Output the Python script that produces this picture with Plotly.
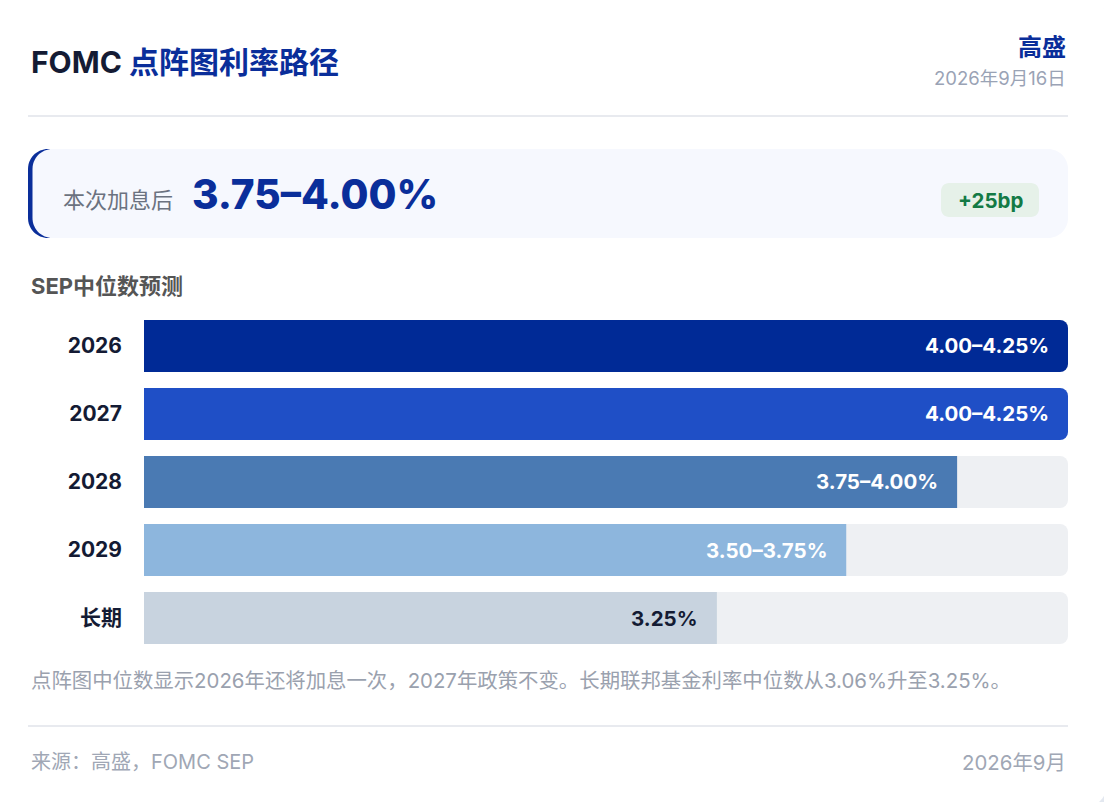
#!/usr/bin/env python3
"""FOMC dot-plot rate path card, drawn with Plotly."""

import plotly.graph_objects as go

years = ["2026", "2027", "2028", "2029", "长期"]
rate_labels = ["4.00–4.25%", "4.00–4.25%", "3.75–4.00%", "3.50–3.75%", "3.25%"]
bar_fill_pct = [100, 100, 88, 76, 62]
track_pct = [100, 100, 100, 100, 100]

current_rate = "3.75–4.00%"
rate_change = "+25bp"
source_name = "高盛"
report_date = "2026年9月16日"
footer_date = "2026年9月"
note_text = "点阵图中位数显示2026年还将加息一次，2027年政策不变。长期联邦基金利率中位数从3.06%升至3.25%。"

# --- styles ---
W, H = 1112, 802
OFFSET = 8  # the page body margin pushes the figure 8px right and down
FONT = "Inter, 'Noto Sans CJK SC', sans-serif"
NAVY = "#0A2E9A"
INK = "#141B34"
bar_colors = ["#002A96", "#1F4FC6", "#4A7AB3", "#8DB6DD", "#C8D3DF"]
label_colors = ["#FFFFFF", "#FFFFFF", "#FFFFFF", "#FFFFFF", INK]


def X(px):
    return (px - OFFSET) / W


def Y(py):
    return 1 - (py - OFFSET) / H


def rounded_rect(x0, y0, x1, y1, r):
    """SVG path (paper coords) for a rounded rectangle given in pixels."""
    k = 0.5523 * r

    def p(x, y):
        return f"{X(x):.5f},{Y(y):.5f}"

    return (
        f"M{p(x0 + r, y0)} L{p(x1 - r, y0)} "
        f"C{p(x1 - r + k, y0)} {p(x1, y0 + r - k)} {p(x1, y0 + r)} "
        f"L{p(x1, y1 - r)} "
        f"C{p(x1, y1 - r + k)} {p(x1 - r + k, y1)} {p(x1 - r, y1)} "
        f"L{p(x0 + r, y1)} "
        f"C{p(x0 + r - k, y1)} {p(x0, y1 - r + k)} {p(x0, y1 - r)} "
        f"L{p(x0, y0 + r)} "
        f"C{p(x0, y0 + r - k)} {p(x0 + r - k, y0)} {p(x0 + r, y0)} Z"
    )


fig = go.Figure()

# grey track behind each bar
fig.add_trace(go.Bar(
    y=years, x=track_pct, orientation="h",
    marker=dict(color="#EEF0F3", cornerradius=8, line_width=0),
    width=52 / 68, hoverinfo="skip", showlegend=False,
))
# filled bars
fig.add_trace(go.Bar(
    y=years, x=bar_fill_pct, orientation="h",
    marker=dict(color=bar_colors, cornerradius=8, line_width=0),
    width=52 / 68, showlegend=False,
    customdata=rate_labels, hovertemplate="%{y}: %{customdata}<extra></extra>",
))

annotations = []
# value labels at the bar ends (category index, since "2026" etc. look numeric)
for i, (val, lab, col) in enumerate(zip(bar_fill_pct, rate_labels, label_colors)):
    annotations.append(dict(
        x=val, y=i, xref="x", yref="y", text=lab, showarrow=False,
        xanchor="right", yanchor="middle", xshift=-17,
        font=dict(family=FONT, size=20.5, color=col, weight="bold"),
    ))


def note(text, x, y, size, color, anchor="left", weight="normal"):
    annotations.append(dict(
        x=X(x), y=Y(y), xref="paper", yref="paper", text=text, showarrow=False,
        xanchor=anchor, yanchor="middle",
        font=dict(family=FONT, size=size, color=color, weight=weight),
    ))


note(f"FOMC <span style='color:{NAVY}'>点阵图利率路径</span>", 29, 62, 30, INK, weight="bold")
note(source_name, 1068, 47, 24, NAVY, anchor="right", weight="bold")
note(report_date, 1068, 78, 18.5, "#9AA3B5", anchor="right")
note("本次加息后", 61, 200, 22, "#6B7280")
note(current_rate, 190, 194, 40.5, NAVY, weight=800)
note(rate_change, 990, 201, 20.5, "#137A45", anchor="center", weight="bold")
note("SEP中位数预测", 29, 286, 22, "#555555", weight="bold")
note(note_text, 29, 680, 20.4, "#9AA1AE")
note("来源：高盛，FOMC SEP", 29, 762, 20, "#A0A7B5")
note(footer_date, 1068, 762, 20.4, "#A0A7B5", anchor="right")

shapes = [
    # white card on grey page
    dict(type="path", xref="paper", yref="paper", layer="below",
         path=rounded_rect(-40, -4, 1107, 808, 24), fillcolor="#FFFFFF", line_width=0),
    # divider lines
    dict(type="line", xref="paper", yref="paper", layer="below",
         x0=X(28), x1=X(1068), y0=Y(116), y1=Y(116), line=dict(color="#E8EAEF", width=2)),
    dict(type="line", xref="paper", yref="paper", layer="below",
         x0=X(28), x1=X(1068), y0=Y(726), y1=Y(726), line=dict(color="#E8EAEF", width=2)),
    # highlight box with blue left edge
    dict(type="path", xref="paper", yref="paper", layer="below",
         path=rounded_rect(28, 149, 200, 238, 20), fillcolor=NAVY, line_width=0),
    dict(type="path", xref="paper", yref="paper", layer="below",
         path=rounded_rect(32.5, 149, 1068, 238, 20), fillcolor="#F6F8FE", line_width=0),
    # change badge
    dict(type="path", xref="paper", yref="paper", layer="below",
         path=rounded_rect(941, 183, 1039, 217, 8), fillcolor="#E6F1E9", line_width=0),
]

fig.update_layout(
    width=W, height=H,
    margin=dict(l=0, r=0, t=0, b=0),
    paper_bgcolor="#E3E8F0",
    plot_bgcolor="rgba(0,0,0,0)",
    barmode="overlay",
    font=dict(family=FONT),
    xaxis=dict(domain=[X(144), X(1068)], range=[0, 100], visible=False, fixedrange=True),
    yaxis=dict(
        domain=[Y(652), Y(312)], type="category", categoryorder="array",
        categoryarray=years, range=[4.5, -0.5], showgrid=False, zeroline=False,
        showline=False, ticks="", ticklabelstandoff=21, fixedrange=True,
        tickfont=dict(family=FONT, size=21, color=INK, weight="bold"),
    ),
    shapes=shapes,
    annotations=annotations,
    showlegend=False,
)

fig.write_html("out.html")
